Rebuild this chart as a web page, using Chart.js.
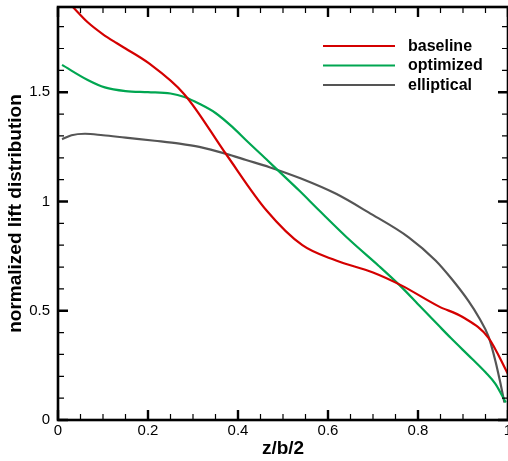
<!DOCTYPE html>
<html>
<head>
<meta charset="utf-8">
<script src="https://cdn.jsdelivr.net/npm/chart.js@4/dist/chart.umd.min.js"></script>
<style>
  html, body { margin: 0; padding: 0; background: #fff; }
</style>
</head>
<body>
<canvas id="chart" width="508" height="461"></canvas>
<script>
// values
const baseX = [0, 0.033, 0.066, 0.1, 0.13, 0.15, 0.2, 0.281, 0.374, 0.463, 0.543, 0.618, 0.7, 0.764, 0.846, 0.9, 0.957, 1.0];
const baseY = [1.96, 1.89, 1.82, 1.765, 1.725, 1.70, 1.635, 1.49, 1.215, 0.96, 0.80, 0.73, 0.675, 0.615, 0.52, 0.47, 0.375, 0.21];

const optX = [0.009, 0.066, 0.104, 0.15, 0.2, 0.25, 0.281, 0.314, 0.35, 0.388, 0.418, 0.463, 0.49, 0.536, 0.58, 0.65, 0.713, 0.764, 0.8, 0.846, 0.873, 0.92, 0.95, 0.972, 0.995];
const optY = [1.625, 1.556, 1.522, 1.505, 1.50, 1.494, 1.478, 1.447, 1.405, 1.34, 1.28, 1.193, 1.14, 1.05, 0.96, 0.82, 0.705, 0.607, 0.53, 0.432, 0.375, 0.28, 0.218, 0.165, 0.08];

const ellX = [0.009, 0.03, 0.06, 0.1, 0.15, 0.215, 0.27, 0.314, 0.374, 0.418, 0.47, 0.54, 0.618, 0.69, 0.78, 0.839, 0.875, 0.912, 0.935, 0.957, 0.972, 0.983, 0.992];
const ellY = [1.285, 1.303, 1.31, 1.303, 1.292, 1.278, 1.265, 1.25, 1.218, 1.19, 1.157, 1.105, 1.035, 0.95, 0.835, 0.73, 0.645, 0.545, 0.47, 0.38, 0.27, 0.17, 0.08];

const seriesNames = ['baseline', 'optimized', 'elliptical'];
const xTicks = [0, 0.2, 0.4, 0.6, 0.8, 1];
const yTicks = [0, 0.5, 1, 1.5];
const xMinorStep = 0.05;
const yMinorStep = 0.1;

const FONT = '"Liberation Sans", Arial, Helvetica, sans-serif';

function pts(xs, ys) {
    return xs.map((x, i) => ({ x: x, y: ys[i] }));
}

// frame + inward ticks on all four sides
const frameTicks = {
    id: 'frameTicks',
    afterDatasetsDraw(chart) {
        const { ctx, chartArea: a, scales } = chart;
        const sx = scales.x, sy = scales.y;
        ctx.save();
        ctx.strokeStyle = '#000';

        function xTick(v, len, w) {
            const p = sx.getPixelForValue(v);
            ctx.lineWidth = w;
            ctx.beginPath();
            ctx.moveTo(p, a.bottom); ctx.lineTo(p, a.bottom - len);
            ctx.moveTo(p, a.top); ctx.lineTo(p, a.top + len);
            ctx.stroke();
        }
        function yTick(v, len, w) {
            const p = sy.getPixelForValue(v);
            ctx.lineWidth = w;
            ctx.beginPath();
            ctx.moveTo(a.left, p); ctx.lineTo(a.left + len, p);
            ctx.moveTo(a.right, p); ctx.lineTo(a.right - len, p);
            ctx.stroke();
        }

        for (let i = 1; i * xMinorStep < sx.max; i++) xTick(i * xMinorStep, 6, 1.2);
        for (let i = 1; i * yMinorStep < sy.max; i++) yTick(i * yMinorStep, 6, 1.2);
        xTicks.forEach(v => xTick(v, 10, 2.4));
        yTicks.forEach(v => yTick(v, 10, 2.4));

        ctx.lineWidth = 2.6;
        ctx.strokeRect(a.left, a.top, a.right - a.left, a.bottom - a.top);
        ctx.restore();
    }
};

// legend inside the plot, top right
const lineKey = {
    id: 'lineKey',
    afterDraw(chart) {
        const ctx = chart.ctx;
        ctx.save();
        ctx.font = 'bold 16px ' + FONT;
        ctx.textBaseline = 'middle';
        ctx.textAlign = 'left';
        chart.data.datasets.forEach((ds, i) => {
            const yy = 46 + i * 19.5;
            ctx.strokeStyle = ds.borderColor;
            ctx.lineWidth = 2;
            ctx.beginPath();
            ctx.moveTo(323, yy); ctx.lineTo(395, yy);
            ctx.stroke();
            ctx.fillStyle = '#000';
            ctx.fillText(ds.label, 408, yy + 0.5);
        });
        ctx.restore();
    }
};

const lineStyle = { borderWidth: 2.2, pointRadius: 0, cubicInterpolationMode: 'monotone', fill: false };

new Chart(document.getElementById('chart').getContext('2d'), {
    type: 'line',
    data: {
        datasets: [
            Object.assign({ label: seriesNames[0], data: pts(baseX, baseY), borderColor: '#d40000' }, lineStyle),
            Object.assign({ label: seriesNames[1], data: pts(optX, optY), borderColor: '#00a651' }, lineStyle),
            Object.assign({ label: seriesNames[2], data: pts(ellX, ellY), borderColor: '#555555' }, lineStyle)
        ]
    },
    options: {
        responsive: false,
        animation: false,
        devicePixelRatio: 1,
        layout: { padding: { top: 7, right: 0, bottom: 0, left: 0 } },
        plugins: { legend: { display: false }, tooltip: { enabled: false } },
        scales: {
            x: {
                type: 'linear', min: 0, max: 1,
                grid: { display: false, drawTicks: false }, border: { display: false },
                afterBuildTicks: s => { s.ticks = xTicks.map(v => ({ value: v })); },
                ticks: { font: { family: FONT, size: 15 }, color: '#000', padding: 2, maxRotation: 0, autoSkip: false, callback: v => String(v) },
                title: { display: true, text: 'z/b/2', color: '#000', font: { family: FONT, size: 19, weight: 'bold' }, padding: { top: 0, bottom: 1 } },
                afterFit: s => { s.height = 41; s.paddingLeft = 0; s.paddingRight = 0; }
            },
            y: {
                type: 'linear', min: 0, max: 1.89,
                grid: { display: false, drawTicks: false }, border: { display: false },
                afterBuildTicks: s => { s.ticks = yTicks.map(v => ({ value: v })); },
                ticks: { font: { family: FONT, size: 15 }, color: '#000', padding: 8, autoSkip: false, callback: v => String(v) },
                title: { display: true, text: 'normalized lift distribution', color: '#000', font: { family: FONT, size: 19, weight: 'bold' }, padding: { top: 4, bottom: 0 } },
                afterFit: s => { s.width = 58; s.paddingTop = 0; s.paddingBottom = 0; }
            }
        }
    },
    plugins: [frameTicks, lineKey]
});
</script>
</body>
</html>
